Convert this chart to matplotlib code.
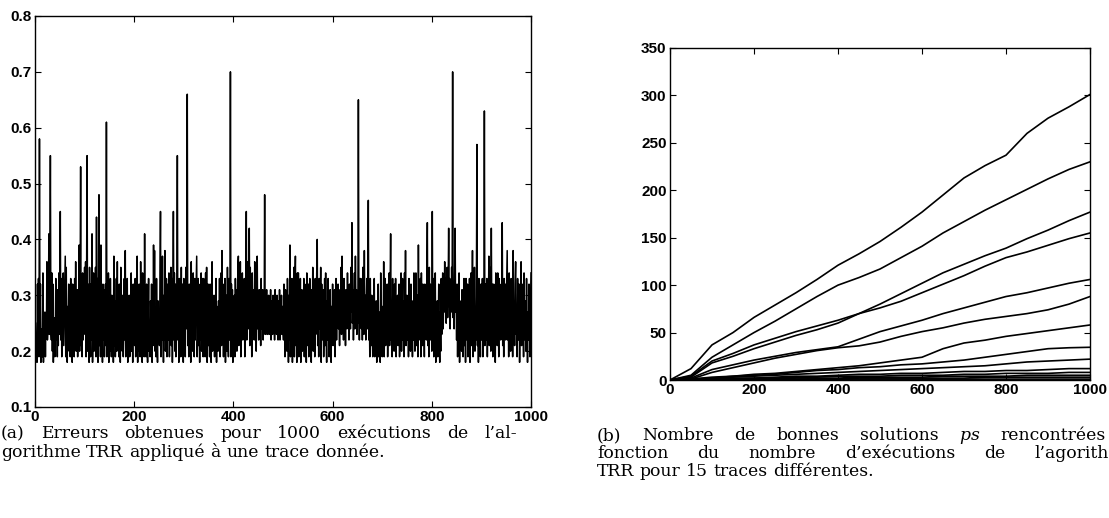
import numpy as np
import matplotlib
matplotlib.use("Agg")
import matplotlib.pyplot as plt

# ---------------- data ----------------
# (a) errors of 1000 runs, in hundredths, 50 values per row
error_rows = [
    "25192318322133195823" "32182422193418222027" "19262336222428412331" "55242234203218262219" "24332229193121342330",
    "45223319322434212631" "37193522182824322026" "19332325183221271933" "22362024311926223920" "31532129193422302535",
    "23361933552032241835" "26193222411827342029" "22351944243318304821" "29193923261832223119" "25322161192822341826",
    "20332419302226183721" "29192433203622281932" "23183522262030192433" "22381928243318272130" "19252234202718322326",
    "21331924223718282032" "23193622261834212419" "41222719322118253320" "23192922321826213924" "38202719332318292226",
    "21324519282237241830" "22382027331925322234" "19292435213318284522" "34203219263155222918" "33232719352132241833",
    "22321935243366212819" "32232618362229203424" "19332227313719243321" "26183222342027331933" "23291934223518263221",
    "28193223182736202522" "30192621331828232029" "22331927342138243219" "29223318263020352319" "33222870193224311827",
    "22301933243120283537" "21302436193126342230" "25331931284522363024" "31422135263019342331" "27223625312030372429",
    "22312630213324293122" "30254823302631232825" "30232724312226292330" "25282231242723302522" "29243122272530232824",
    "22322519312327203324" "18302239192824331827" "22351932372126183423" "34192822331826312029" "24331932222718342521",
    "32192733222918312435" "20283219332326344021" "29193324273518322226" "31192533213423182922" "33241927312218282532",
    "21292431192733223025" "32242921312635233727" "30223325292131272434" "26302232282435274325" "31222934243727312329",
    "25652822332633243022" "35272338253022283324" "32472229193325213023" "19272233192521291826" "22321927231834212619",
    "28223619263321292332" "19272434213041222819" "33232620322433192722" "30212532192823342026" "33222919342438212730",
    "22281933242620322327" "19292234252028342126" "30193924282233193425" "21322327193224292233" "43212919352432222720",
    "45223319272434182621" "29192432221827203323" "28342431273629332530" "35263142283324302735" "29702632243442273122",
    "32192822341826232920" "31241927332129183325" "22321928243318273421" "26381929233520272233" "57212918332427193222",
    "26331928246321322227" "33192924372135262042" "24321928322227183423" "29213426193324282232" "25432129193324322227",
    "32382228193424272033" "22291938242721323623" "28193325223218272436" "21322328193425222920" "33241827223225192834",
]

# (b) cumulative number of good solutions for 15 traces, sampled every 50 runs
runs_b = [0, 50, 100, 150, 200, 250, 300, 350, 400, 450, 500,
          550, 600, 650, 700, 750, 800, 850, 900, 950, 1000]
trace_01 = [0, 12, 37, 50, 66, 79, 92, 106, 121, 133, 146, 161, 177, 195, 213, 226, 237, 260, 276, 288, 301]
trace_02 = [0, 5, 24, 37, 50, 62, 75, 88, 100, 108, 117, 129, 141, 155, 167, 179, 190, 201, 212, 222, 230]
trace_03 = [0, 4, 20, 28, 37, 44, 51, 57, 63, 70, 80, 91, 102, 113, 122, 131, 139, 149, 158, 168, 177]
trace_04 = [0, 3, 18, 25, 33, 40, 47, 53, 60, 70, 76, 83, 92, 101, 110, 120, 129, 135, 142, 149, 155]
trace_05 = [0, 2, 11, 16, 21, 25, 29, 32, 35, 43, 51, 57, 63, 70, 76, 82, 88, 92, 97, 102, 106]
trace_06 = [0, 1, 8, 13, 18, 23, 27, 31, 34, 36, 40, 46, 51, 55, 60, 64, 67, 70, 74, 80, 88]
trace_07 = [0, 1, 3, 4, 6, 7, 9, 11, 13, 15, 18, 21, 24, 33, 39, 42, 46, 49, 52, 55, 58]
trace_08 = [0, 1, 2, 4, 5, 6, 8, 10, 11, 13, 14, 16, 17, 19, 21, 24, 27, 30, 33, 34, 34.5]
trace_09 = [0, 0, 2, 3, 4, 5, 6, 7, 8, 9, 10, 11, 12, 13, 14, 15, 17, 19, 20, 21, 22]
trace_10 = [0, 0, 1, 2, 2, 3, 4, 4, 5, 6, 6, 7, 7, 8, 9, 9, 10, 10, 11, 12, 12]
trace_11 = [0, 0, 1, 1, 2, 2, 3, 3, 4, 4, 4, 5, 5, 5, 6, 6, 7, 7, 7, 8, 8]
trace_12 = [0, 0, 0, 1, 1, 1, 2, 2, 2, 3, 3, 3, 3, 4, 4, 4, 4, 5, 5, 5, 5]
trace_13 = [0, 0, 0, 0, 1, 1, 1, 1, 1, 2, 2, 2, 2, 2, 2, 3, 3, 3, 3, 3, 3]
trace_14 = [0, 0, 0, 0, 0, 0, 0, 1, 1, 1, 1, 1, 1, 1, 1, 1, 1, 1, 1, 1, 1]
trace_15 = [0, 0, 0, 0, 0, 0, 0, 0, 0, 0, 0, 0, 0, 0, 0, 0, 0, 0, 0, 0, 0]
traces = [trace_01, trace_02, trace_03, trace_04, trace_05, trace_06, trace_07, trace_08,
          trace_09, trace_10, trace_11, trace_12, trace_13, trace_14, trace_15]

xticks_a = [0, 200, 400, 600, 800, 1000]
yticks_a = [0.1, 0.2, 0.3, 0.4, 0.5, 0.6, 0.7, 0.8]
xticks_b = [0, 200, 400, 600, 800, 1000]
yticks_b = [0, 50, 100, 150, 200, 250, 300, 350]

caption_a = [["(a)", "Erreurs", "obtenues", "pour", "1000", "exécutions", "de", "l\u2019al-"],
             ["gorithme", "TRR", "appliqué", "à", "une", "trace", "donnée."]]
caption_b = [["(b)", "Nombre", "de", "bonnes", "solutions", "$ps$", "rencontrées"],
             ["fonction", "du", "nombre", "d\u2019exécutions", "de", "l\u2019agorithme"],
             ["TRR", "pour", "15", "traces", "différentes."]]

# decode error values
for row in error_rows:
    assert len(row) == 100, len(row)
errors = []
for row in error_rows:
    errors += [int(row[i:i + 2]) / 100 for i in range(0, len(row), 2)]
errors = np.array(errors)
runs_a = np.arange(1, len(errors) + 1)

# ---------------- figure ----------------
W, H = 1109, 518
plt.rcParams['mathtext.fontset'] = 'dejavuserif'
fig = plt.figure(figsize=(W / 100, H / 100), dpi=100)

TICK_SIZE = 11


def style_axes(ax):
    ax.tick_params(direction='in', length=4, width=0.8, top=True, right=True,
                   labelsize=TICK_SIZE, pad=2.5)
    for lab in ax.get_xticklabels() + ax.get_yticklabels():
        lab.set_fontfamily('Liberation Sans')
        lab.set_fontweight('bold')
    for s in ax.spines.values():
        s.set_linewidth(1.0)


ax1 = fig.add_axes([35 / W, 1 - 407 / H, 496 / W, 391 / H])
ax1.plot(runs_a, errors, color='black', lw=1.1)
ax1.set_xlim(0, 1000)
ax1.set_ylim(0.1, 0.8)
ax1.set_xticks(xticks_a)
ax1.set_yticks(yticks_a)
ax1.set_xticklabels([str(t) for t in xticks_a])
ax1.set_yticklabels([f"{t:.1f}" for t in yticks_a])
style_axes(ax1)

ax2 = fig.add_axes([670 / W, 1 - 380 / H, 420 / W, 332 / H])
for tr in traces:
    ax2.plot(runs_b, tr, color='black', lw=1.2)
ax2.set_xlim(0, 1000)
ax2.set_ylim(0, 350)
ax2.set_xticks(xticks_b)
ax2.set_yticks(yticks_b)
ax2.set_xticklabels([str(t) for t in xticks_b])
ax2.set_yticklabels([str(t) for t in yticks_b])
style_axes(ax2)

# ---------------- captions ----------------
renderer = fig.canvas.get_renderer()
cap_family = 'DejaVu Serif'


def measure(s, size):
    t = fig.text(0, 0, s, family=cap_family, size=size)
    w = t.get_window_extent(renderer).width
    t.remove()
    return w


# caption size chosen so that the last line of (a) has its natural width
ref_size = 10.0
natural = measure(" ".join(caption_a[1]), ref_size)
cap_size = ref_size * 385.0 / natural


def place_line(words, x0, ybase, x_end=None):
    texts = [fig.text(0, 1 - ybase / H, w, family=cap_family, size=cap_size,
                      va='baseline', ha='left') for w in words]
    widths = [t.get_window_extent(renderer).width for t in texts]
    gap = measure("a a", cap_size) - measure("aa", cap_size)
    if x_end is not None and len(words) > 1:
        gap = (x_end - x0 - sum(widths)) / (len(words) - 1)
    x = x0
    for t, w in zip(texts, widths):
        t.set_x(x / W)
        x += w + gap


place_line(caption_a[0], 1, 438, x_end=517)
place_line(caption_a[1], 1, 457)
place_line(caption_b[0], 597, 440, x_end=1106)
place_line(caption_b[1], 597, 458, x_end=1109 + measure("me", cap_size))
place_line(caption_b[2], 597, 476)

fig.savefig("out.png", dpi=100)
